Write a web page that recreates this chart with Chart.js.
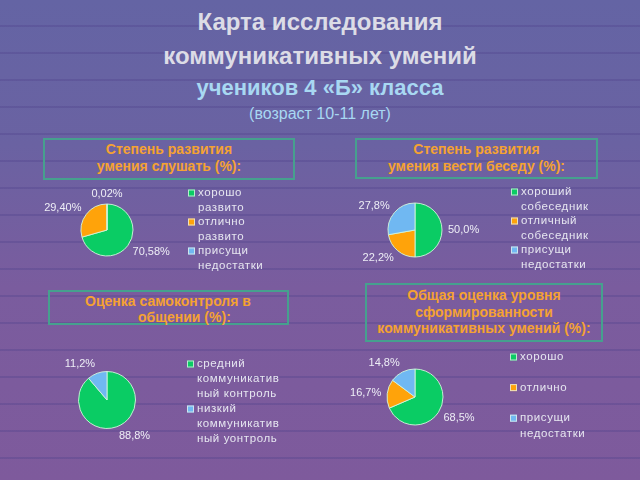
<!DOCTYPE html>
<html>
<head>
<meta charset="utf-8">
<script src="https://cdn.jsdelivr.net/npm/chart.js@4.4.1/dist/chart.umd.min.js"></script>
<style>
  body {
    margin: 0;
    width: 640px;
    height: 480px;
    overflow: hidden;
    position: relative;
    font-family: "Liberation Sans", Arial, sans-serif;
    background:
      repeating-linear-gradient(180deg, transparent 0 25px, rgba(80, 66, 140, 0.35) 25px 27px),
      linear-gradient(180deg, #6464a4 0%, #6a62a2 30%, #7a5c9e 60%, #7e5a9c 100%);
  }
  .t { position: absolute; left: 0; width: 640px; text-align: center; font-weight: bold; white-space: nowrap; }
  .t1 { top: 8px; font-size: 24px; color: #dcdce6; }
  .t2 { top: 42px; font-size: 24px; color: #dcdce6; }
  .t3 { top: 75px; font-size: 22px; color: #a8d8f2; }
  .t4 { top: 105px; font-size: 16px; font-weight: normal; color: #a8d8f2; }
  .box {
    position: absolute;
    box-sizing: border-box;
    border: 2px solid #46a08e;
    color: #f5a232;
    font-weight: bold;
    font-size: 14px;
    line-height: 17px;
    white-space: nowrap;
  }
  canvas { position: absolute; }
</style>
</head>
<body>
<div class="t t1">Карта исследования</div>
<div class="t t2">коммуникативных умений</div>
<div class="t t3">учеников 4 «Б» класса</div>
<div class="t t4">(возраст 10-11 лет)</div>

<div class="box" style="left:43px;top:138px;width:252px;height:42px;padding-top:1px;text-align:center">Степень развития<br>умения слушать (%):</div>
<div class="box" style="left:355px;top:138px;width:243px;height:41px;padding-top:1px;text-align:center">Степень развития<br>умения вести беседу (%):</div>
<div class="box" style="left:48px;top:290px;width:241px;height:35px;line-height:16px;padding-top:1px"><div style="padding-left:35px">Оценка самоконтроля в</div><div style="padding-left:88px">общении (%):</div></div>
<div class="box" style="left:365px;top:283px;width:238px;height:59px;line-height:16.5px;padding-top:2px;text-align:center">Общая оценка уровня<br>сформированности<br>коммуникативных умений (%):</div>

<canvas id="c1" width="270" height="100" style="left:30px;top:180px"></canvas>
<canvas id="c2" width="290" height="100" style="left:340px;top:180px"></canvas>
<canvas id="c3" width="280" height="120" style="left:30px;top:340px"></canvas>
<canvas id="c4" width="290" height="110" style="left:340px;top:345px"></canvas>

<script>
// data
const listenValues = [70.58, 29.40, 0.02];
const listenLabels = [["хорошо", "развито"], ["отлично", "развито"], ["присущи", "недостатки"]];

const talkValues = [50.0, 22.2, 27.8];
const talkLabels = [["хороший", "собеседник"], ["отличный", "собеседник"], ["присущи", "недостатки"]];

const selfValues = [88.8, 11.2];
const selfLabels = [["средний", "коммуникатив", "ный контроль"], ["низкий", "коммуникатив", "ный уонтроль"]];

const totalValues = [68.5, 16.7, 14.8];
const totalLabels = [["хорошо"], ["отлично"], ["присущи", "недостатки"]];

const green = "rgb(10,204,100)";
const orange = "rgb(255,163,10)";
const blue = "rgb(112,184,242)";

// labels around the pie + legend on the right
const pieExtras = {
    id: "pieExtras",
    afterDatasetsDraw(chart, args, opts) {
        const ctx = chart.ctx;
        const meta = chart.getDatasetMeta(0);
        const ds = chart.data.datasets[0];
        ctx.save();
        ctx.font = '11px "Liberation Sans", Arial, sans-serif';
        ctx.fillStyle = "#eeeef6";
        ctx.textBaseline = "middle";
        meta.data.forEach((arc, i) => {
            const p = arc.getProps(["x", "y", "startAngle", "endAngle", "outerRadius"], true);
            const mid = (p.startAngle + p.endAngle) / 2;
            const r = p.outerRadius + opts.gap;
            const c = Math.cos(mid), s = Math.sin(mid);
            ctx.textAlign = Math.abs(c) < 0.15 ? "center" : (c > 0 ? "left" : "right");
            const txt = ds.data[i].toFixed(opts.decimals).replace(".", ",") + "%";
            ctx.fillText(txt, p.x + c * r, p.y + s * r + s * 4);
        });

        const lg = opts.legend;
        const lines = chart.data.labels;
        const slot = Math.max(...lines.map(l => l.length));
        ctx.font = '11.5px "Liberation Sans", Arial, sans-serif';
        ctx.letterSpacing = "0.6px";
        ctx.textAlign = "left";
        lines.forEach((item, i) => {
            const y0 = lg.y + i * slot * lg.lh;
            ctx.fillStyle = ds.backgroundColor[i];
            ctx.fillRect(lg.x, y0 - 3.5, 7, 7);
            ctx.strokeStyle = "rgba(230,240,235,0.8)";
            ctx.lineWidth = 1;
            ctx.strokeRect(lg.x + 0.5, y0 - 3, 6, 6);
            ctx.fillStyle = "#e6e6f0";
            item.forEach((t, k) => ctx.fillText(t, lg.x + 10, y0 + k * lg.lh));
        });
        ctx.restore();
    }
};

function makePie(id, values, labels, colors, cx, cy, r, decimals, legend) {
    const canvas = document.getElementById(id);
    const L = canvas.offsetLeft, T = canvas.offsetTop;
    const W = canvas.width, H = canvas.height;
    const x = cx - L, y = cy - T, s = r + 3;
    new Chart(canvas, {
        type: "pie",
        data: {
            labels,
            datasets: [{
                data: values,
                backgroundColor: colors,
                borderColor: "rgba(210,245,220,0.9)",
                borderWidth: 1,
                radius: r
            }]
        },
        options: {
            responsive: false,
            animation: false,
            events: [],
            layout: {padding: {left: x - s, right: W - x - s, top: y - s, bottom: H - y - s}},
            plugins: {
                legend: {display: false},
                tooltip: {enabled: false},
                pieExtras: {
                    gap: 6,
                    decimals,
                    legend: {x: legend.x - L, y: legend.y - T, lh: legend.lh}
                }
            }
        },
        plugins: [pieExtras]
    });
}

makePie("c1", listenValues, listenLabels, [green, orange, blue], 107, 230, 26, 2, {x: 188, y: 193, lh: 14.5});
makePie("c2", talkValues, talkLabels, [green, orange, blue], 415, 230, 27, 1, {x: 511, y: 192, lh: 14.5});
makePie("c3", selfValues, selfLabels, [green, blue], 107, 400, 28.5, 1, {x: 187, y: 364, lh: 15});
makePie("c4", totalValues, totalLabels, [green, orange, blue], 415, 397, 28, 1, {x: 510, y: 357, lh: 15.3});
</script>
</body>
</html>
